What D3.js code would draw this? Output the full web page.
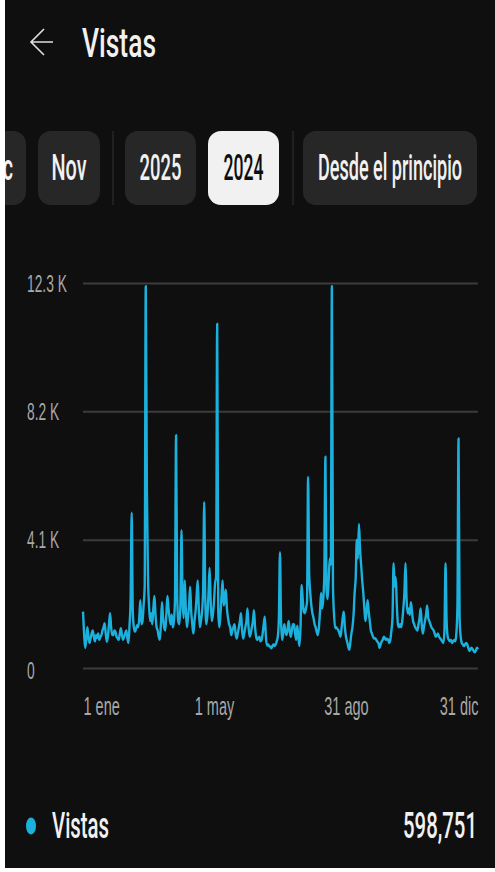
<!DOCTYPE html>
<html>
<head>
<meta charset="utf-8">
<script src="https://cdn.jsdelivr.net/npm/d3@7"></script>
<style>
  html, body { margin: 0; padding: 0; background: #ffffff; }
  svg { display: block; font-family: Roboto, "Noto Sans", sans-serif; }
</style>
</head>
<body>
<script>
// daily views 2024, one array per month
const ene = [1800,1100,640,900,1300,1000,800,950,1100,1200,1000,850,1050,960,1100,900,980,1050,1200,1300,1430,1100,840,1000,1400,1750,1300,1050,1050,1200,1160];
const feb = [1000,950,900,1100,1270,1050,900,1000,1100,1200,950,800,1370,2200,4960,1800,1300,1160,1250,1370,1300,1600,2170,1400,1500,2000,2600,12200,5800];
const mar = [3000,2000,1500,1750,1400,1900,2300,1700,1300,1200,1000,900,1400,2100,1600,1300,1200,1700,2300,1900,1600,1400,1700,1300,1500,2200,7440,2400,1500,1400,2000];
const abr = [4400,2200,1600,2800,1900,1300,1600,2000,2600,1800,1400,1100,1500,1800,2300,2800,1900,1300,1500,1800,2500,5300,2200,1400,1700,2400,3200,2100,1500,1700];
const may = [2100,2700,2900,11000,1800,1300,1700,2300,2800,2000,2200,2500,1900,1600,1400,1300,1050,1200,1300,1400,1100,940,1100,1300,1500,1750,1200,940,1100,1300,1500];
const jun = [1900,1300,1000,1100,1300,1500,1850,1300,1000,900,950,1000,850,900,1100,1400,1640,1000,720,750,700,680,630,700,750,700,750,850,1000,1600];
const jul = [3700,1500,900,1100,1400,1200,1050,1200,1500,1200,1000,1200,1400,1400,1100,900,1350,1000,700,1300,2650,2200,1800,1750,1900,2100,6100,3000,2400,2000,1750];
const ago = [1600,1400,1300,1150,1050,1300,1800,2400,1900,2200,3000,6750,2500,2200,2800,3500,3300,12200,2600,1700,1270,1300,1250,1200,1100,1000,1300,1600,1800,1300,1000];
const sep = [850,700,580,800,1100,1300,1700,2400,2900,4100,3500,4600,3800,3300,2800,2400,1900,1500,1800,2170,1800,1500,1200,1100,1000,940,950,900,840,800];
const oct = [640,750,850,900,1000,950,900,940,900,800,900,1200,1600,3350,2600,2900,2000,1400,1300,1400,1300,1500,1900,2400,3350,2200,1750,1900,1700,2100,1800];
const nov = [1500,1400,1300,1250,1200,1400,1600,1900,1400,1100,1300,1500,1700,2000,1600,1500,1400,1300,1250,1200,1100,1000,1050,1100,1000,950,900,850,800,1200];
const dic = [3350,1500,1000,900,850,900,800,850,900,850,1100,2000,7330,1600,1000,800,750,700,750,800,760,650,540,600,650,600,550,500,550,650,600];

const months = [ene, feb, mar, abr, may, jun, jul, ago, sep, oct, nov, dic];
const yTicks = [0, 4100, 8200, 12300];
const xTickDates = [new Date(2024, 0, 1), new Date(2024, 4, 1), new Date(2024, 7, 31), new Date(2024, 11, 31)];
const xTickLabels = ['1 ene', '1 may', '31 ago', '31 dic'];
const buttonLabels = ['Dic', 'Nov', '2025', '2024', 'Desde el principio'];
const selectedButton = '2024';
const seriesName = 'Vistas';
const total = 598751;

// params
let width = 495;
let height = 872;
let bg = '#0f0f0f';
let lineColor = '#1cb0dc';
let margin = {left: 83, right: 478, top: 283, bottom: 668};

// flatten months into dated points
let points = [];
months.forEach((vals, m) => {
  vals.forEach((v, d) => points.push({date: new Date(2024, m, d + 1), value: v}));
});

// squeeze text horizontally (the screenshot is condensed)
function squeeze(sel, k) {
  sel.each(function() {
    let w = this.getComputedTextLength();
    d3.select(this).attr('textLength', w * k).attr('lengthAdjust', 'spacingAndGlyphs');
  });
}

var svg = d3.select('body').append('svg')
  .attr('width', width)
  .attr('height', height);

var clip = svg.append('clipPath').attr('id', 'screen');
clip.append('rect').attr('x', 5).attr('y', 0).attr('width', width - 5).attr('height', height - 4);

var screen = svg.append('g').attr('clip-path', 'url(#screen)');

screen.append('rect')
  .attr('x', 5).attr('y', 0)
  .attr('width', width - 5).attr('height', height - 4)
  .attr('fill', bg);

// header
screen.append('path')
  .attr('d', 'M31,42 H53 M44,29 L31,42 L44,55')
  .attr('fill', 'none')
  .attr('stroke', '#e0e0e0')
  .attr('stroke-width', 1.6);

screen.append('text')
  .attr('x', 82).attr('y', 57)
  .attr('font-size', 40)
  .attr('font-weight', 500)
  .attr('fill', '#f1f1f1')
  .attr('textLength', 74)
  .attr('lengthAdjust', 'spacingAndGlyphs')
  .text('Vistas');

// period buttons
let btnLeft = [-28, 38, 125, 208, 303];
let btnRight = [26, 100, 196, 279, 477];
let btnTextW = [28, 35, 42, 40, 144];
let btns = screen.append('g').selectAll('g').data(buttonLabels).join('g');
btns.append('rect')
  .attr('x', (d, i) => btnLeft[i])
  .attr('y', 131)
  .attr('width', (d, i) => btnRight[i] - btnLeft[i])
  .attr('height', 74)
  .attr('rx', 13)
  .attr('fill', d => d === selectedButton ? '#f1f1f1' : '#272727');
btns.append('text')
  .attr('x', (d, i) => (btnLeft[i] + btnRight[i]) / 2)
  .attr('y', 180)
  .attr('text-anchor', 'middle')
  .attr('font-size', 37)
  .attr('font-weight', 500)
  .attr('fill', d => d === selectedButton ? '#0f0f0f' : '#f1f1f1')
  .attr('textLength', (d, i) => btnTextW[i])
  .attr('lengthAdjust', 'spacingAndGlyphs')
  .text(d => d);

[113, 293].forEach(x => {
  screen.append('line')
    .attr('x1', x).attr('x2', x)
    .attr('y1', 131).attr('y2', 205)
    .attr('stroke', '#333')
    .attr('stroke-width', 1);
});

// scales
var x = d3.scaleTime()
  .domain([new Date(2024, 0, 1), new Date(2024, 11, 31)])
  .range([margin.left, margin.right]);
var y = d3.scaleLinear()
  .domain([0, 12300])
  .range([margin.bottom, margin.top]);

// y axis + grid
var yAxis = screen.append('g')
  .attr('transform', `translate(${margin.left}, 0)`)
  .call(d3.axisLeft(y)
    .tickValues(yTicks)
    .tickSize(-(margin.right - margin.left))
    .tickFormat(v => v === 0 ? '0' : `${(v / 1000).toFixed(1)} K`));
yAxis.select('.domain').remove();
yAxis.selectAll('.tick line')
  .attr('stroke', '#3c3c3c')
  .attr('stroke-width', 2);
yAxis.selectAll('.tick text')
  .attr('x', -56)
  .attr('dy', null)
  .attr('y', v => v === 0 ? 10 : 8)
  .attr('text-anchor', 'start')
  .attr('font-size', 23)
  .attr('fill', '#a8a8a8')
  .call(squeeze, 0.6);

// x axis
var xAxis = screen.append('g')
  .attr('transform', `translate(0, ${margin.bottom})`)
  .call(d3.axisBottom(x)
    .tickValues(xTickDates)
    .tickSize(0)
    .tickFormat((d, i) => xTickLabels[i]));
xAxis.select('.domain').remove();
xAxis.selectAll('.tick text')
  .attr('y', 47)
  .attr('dy', null)
  .attr('font-size', 25)
  .attr('fill', '#a8a8a8')
  .attr('text-anchor', (d, i) => i === 0 ? 'start' : i === xTickDates.length - 1 ? 'end' : 'middle')
  .call(squeeze, 0.58);

// line
var line = d3.line()
  .x(d => x(d.date))
  .y(d => y(d.value))
  .curve(d3.curveMonotoneX);
screen.append('path')
  .datum(points)
  .attr('d', line)
  .attr('fill', 'none')
  .attr('stroke', lineColor)
  .attr('stroke-width', 2.4)
  .attr('stroke-linejoin', 'round');

// legend
screen.append('ellipse')
  .attr('cx', 31).attr('cy', 826)
  .attr('rx', 5).attr('ry', 8.5)
  .attr('fill', lineColor);
screen.append('text')
  .attr('x', 52).attr('y', 838)
  .attr('font-size', 36)
  .attr('font-weight', 500)
  .attr('fill', '#f1f1f1')
  .attr('textLength', 57)
  .attr('lengthAdjust', 'spacingAndGlyphs')
  .text(seriesName);
screen.append('text')
  .attr('x', 477).attr('y', 838)
  .attr('text-anchor', 'end')
  .attr('font-size', 36)
  .attr('font-weight', 500)
  .attr('fill', '#f1f1f1')
  .attr('textLength', 74)
  .attr('lengthAdjust', 'spacingAndGlyphs')
  .text(d3.format(',')(total));
</script>
</body>
</html>
